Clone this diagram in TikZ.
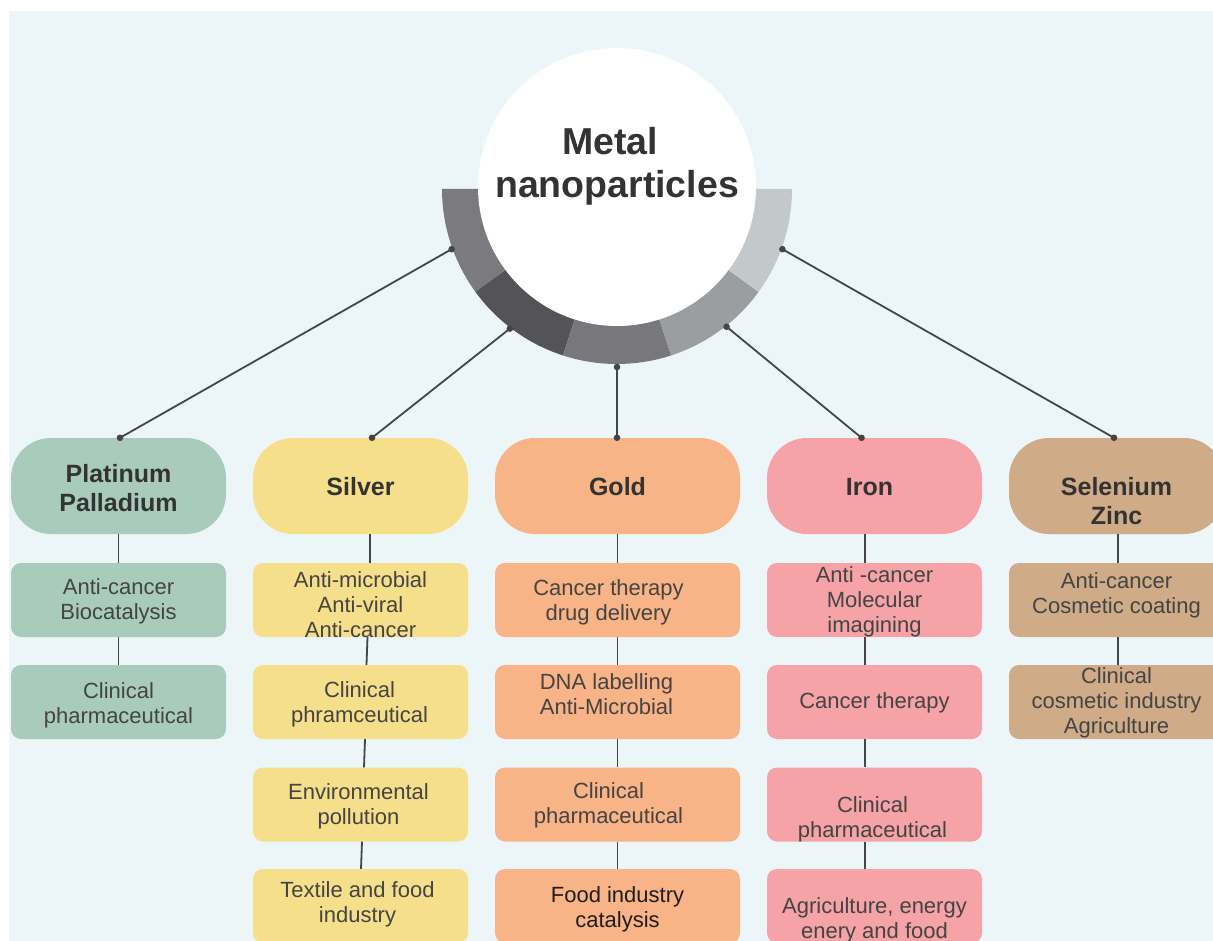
\documentclass[tikz,border=0pt]{standalone}
\usepackage{fontspec}
\setmainfont{Liberation Sans}
\usetikzlibrary{calc}

% colours
\definecolor{bg}{HTML}{ECF6F8}
\definecolor{linegray}{HTML}{454545}
\definecolor{ringA}{HTML}{7B7A7F}
\definecolor{ringB}{HTML}{545358}
\definecolor{ringC}{HTML}{78777C}
\definecolor{ringD}{HTML}{9A9EA1}
\definecolor{ringE}{HTML}{C3C8CB}
\definecolor{ptcol}{HTML}{A8CBBC}
\definecolor{agcol}{HTML}{F6DF8B}
\definecolor{aucol}{HTML}{F8B386}
\definecolor{fecol}{HTML}{F5A3A6}
\definecolor{secol}{HTML}{CFAB88}
\definecolor{headtext}{HTML}{333333}
\definecolor{subtext}{HTML}{444444}
\definecolor{darktext}{HTML}{1E1E1E}

% box text: [column] {x shift} {height of first baseline above centre} {lines}
\newcommand{\bt}[4][c]{\makebox[0pt]{\kern#2\raisebox{#3}[0pt][0pt]{\begin{tabular}[t]{@{}#1@{}}#4\end{tabular}}\kern-#2}}

\tikzset{
  head/.style={rectangle, rounded corners=40pt, minimum height=96pt,
    minimum width=215pt, inner sep=0pt,
    font=\fontsize{25}{29}\selectfont\bfseries, text=headtext},
  sub/.style={rectangle, rounded corners=10pt, minimum height=74pt,
    minimum width=215pt, inner sep=0pt,
    font=\fontsize{22}{25}\selectfont, text=subtext},
  link/.style={draw=linegray, line width=1.8pt},
  knob/.style={fill=linegray},
}

\begin{document}
\begin{tikzpicture}[x=1pt, y=-1pt]
\useasboundingbox (0,0) rectangle (1213,941);
\clip (0,0) rectangle (1213,941);
\fill[white] (0,0) rectangle (1213,941);
\fill[bg] (9,11) rectangle (1213,941);

% segmented half ring under the hub
\coordinate (rc) at (617,189);
\foreach \a/\c in {144/ringA, 108/ringB, 72/ringC, 36/ringD, 0/ringE}
  \fill[\c] ($(rc)+(\a:175)$) arc[start angle=\a, end angle=\a+36, radius=175]
    -- ($(rc)+(\a+36:120)$) arc[start angle=\a+36, end angle=\a, radius=120] -- cycle;

% hub
\node[circle, fill=white, minimum size=278pt, inner sep=0pt,
  font=\fontsize{37.5}{43}\selectfont\bfseries, text=headtext] (hub) at (617,187)
  {\bt{0pt}{32pt}{\hspace*{-14pt}Metal\\nanoparticles}};

% metal headers
\node[head, fill=ptcol] (pt) at (118.5,486) {\bt{0pt}{4pt}{Platinum\\Palladium}};
\node[head, fill=agcol] (ag) at (360.5,486) {\bt{0pt}{-9pt}{Silver}};
\node[head, fill=aucol, minimum width=245pt] (au) at (617.5,486) {\bt{0pt}{-9pt}{Gold}};
\node[head, fill=fecol] (fe) at (874.5,486) {\bt{-5pt}{-9pt}{Iron}};
\node[head, fill=secol] (se) at (1116.5,486) {\bt{0pt}{-9pt}{Selenium\\Zinc}};

% Platinum / Palladium
\node[sub, fill=ptcol] (pt1) at (118.5,600) {\bt{0pt}{6pt}{Anti-cancer\\Biocatalysis}};
\node[sub, fill=ptcol] (pt2) at (118.5,702) {\bt{0pt}{4pt}{Clinical\\pharmaceutical}};

% Silver
\node[sub, fill=agcol] (ag1) at (360.5,600) {\bt{0pt}{13pt}{Anti-microbial\\Anti-viral\\Anti-cancer}};
\node[sub, fill=agcol] (ag2) at (360.5,702) {\bt{-1pt}{5pt}{Clinical\\phramceutical}};
\node[sub, fill=agcol] (ag3) at (360.5,804.5) {\bt{-2pt}{5.5pt}{Environmental\\pollution}};
\node[sub, fill=agcol] (ag4) at (360.5,906) {\bt{-3pt}{9pt}{Textile and food\\industry}};

% Gold
\node[sub, fill=aucol, minimum width=245pt] (au1) at (617.5,600) {\bt{-9pt}{5pt}{Cancer therapy\\drug delivery}};
\node[sub, fill=aucol, minimum width=245pt] (au2) at (617.5,702) {\bt[l]{-11pt}{13pt}{DNA labelling\\Anti-Microbial}};
\node[sub, fill=aucol, minimum width=245pt] (au3) at (617.5,804.5) {\bt{-9pt}{6.5pt}{Clinical\\pharmaceutical}};
\node[sub, fill=aucol, minimum width=245pt, text=darktext] (au4) at (617.5,906) {\bt{0pt}{4pt}{Food industry\\catalysis}};

% Iron
\node[sub, fill=fecol] (fe1) at (874.5,600) {\bt{0pt}{18pt}{Anti -cancer\\Molecular\\imagining}};
\node[sub, fill=fecol] (fe2) at (874.5,702) {\bt{0pt}{-6pt}{Cancer therapy}};
\node[sub, fill=fecol] (fe3) at (874.5,804.5) {\bt{-2pt}{-7.5pt}{Clinical\\pharmaceutical}};
\node[sub, fill=fecol] (fe4) at (874.5,906) {\bt{0pt}{-7pt}{Agriculture, energy\\enery and food}};

% Selenium / Zinc
\node[sub, fill=secol] (se1) at (1116.5,600) {\bt{0pt}{12pt}{Anti-cancer\\Cosmetic coating}};
\node[sub, fill=secol] (se2) at (1116.5,702) {\bt{0pt}{19pt}{Clinical\\cosmetic industry\\Agriculture}};

% anchor points on the ring and on the headers
\coordinate (ptout) at ($(rc)+(160:176)$);
\coordinate (agout) at ($(rc)+(127.5:176)$);
\coordinate (auout) at ($(rc)+(90:178)$);
\coordinate (feout) at ($(rc)+(51.5:176)$);
\coordinate (seout) at ($(rc)+(20:176)$);
\coordinate (ptin) at ([xshift=1.5pt]pt.north);
\coordinate (agin) at ([xshift=11.5pt]ag.north);
\coordinate (auin) at ([xshift=-0.5pt]au.north);
\coordinate (fein) at ([xshift=-13pt]fe.north);
\coordinate (sein) at ([xshift=-2.5pt]se.north);

% spokes from the hub to each metal
\foreach \m in {pt, ag, au, fe, se} {
  \draw[link] (\m out) -- (\m in);
  \fill[knob] (\m out) circle[radius=3.3pt];
  \fill[knob] (\m in) circle[radius=3.3pt];
}

% column links
\draw[link] (pt.south) -- (pt1.north);
\draw[link] (pt1.south) -- (pt2.north);

\draw[link] ([xshift=9.5pt]ag.south) -- ([xshift=9.5pt]ag1.north);
\draw[link] ([xshift=7pt]ag1.south) -- ([xshift=6pt]ag2.north);
\draw[link] ([xshift=4.5pt]ag2.south) -- ([xshift=3.5pt]ag3.north);
\draw[link] ([xshift=1.5pt]ag3.south) -- ([xshift=0.5pt]ag4.north);

\draw[link] (au.south) -- (au1.north);
\draw[link] (au1.south) -- (au2.north);
\draw[link] (au2.south) -- (au3.north);
\draw[link] (au3.south) -- (au4.north);

\draw[link] ([xshift=-9.5pt]fe.south) -- ([xshift=-9.5pt]fe1.north);
\draw[link] ([xshift=-9.5pt]fe1.south) -- ([xshift=-9.5pt]fe2.north);
\draw[link] ([xshift=-9.5pt]fe2.south) -- ([xshift=-9.5pt]fe3.north);
\draw[link] ([xshift=-9.5pt]fe3.south) -- ([xshift=-9.5pt]fe4.north);

\draw[link] ([xshift=1.5pt]se.south) -- ([xshift=1.5pt]se1.north);
\draw[link] ([xshift=1.5pt]se1.south) -- ([xshift=1.5pt]se2.north);
\end{tikzpicture}
\end{document}
